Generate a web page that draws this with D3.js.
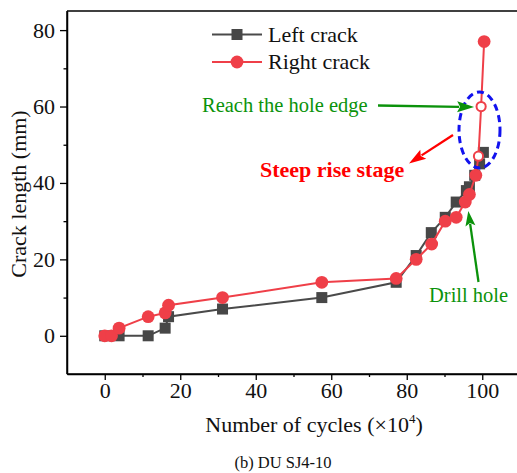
<!DOCTYPE html>
<html>
<head>
<meta charset="utf-8">
<script src="https://cdn.jsdelivr.net/npm/d3@7"></script>
<style>
  html, body { margin: 0; padding: 0; background: #fff; }
</style>
</head>
<body>
<svg id="chart" width="517" height="473"></svg>
<script>
// Crack length (mm) vs. number of cycles (x10^4)
const leftCycles  = [0, 3.8, 11.5, 16, 16.9, 31.2, 57.5, 77.2, 82.5, 86.5, 90.2, 93.1, 95.8, 96.6, 98.0, 99.3, 100.3];
const leftLength  = [0, 0, 0, 2, 5, 7, 10, 14, 21, 27, 31, 35, 38, 39, 42, 45, 48];

const rightCycles = [0, 1.8, 3.8, 11.5, 16, 16.9, 31.2, 57.5, 77.2, 82.5, 86.6, 90.2, 93.1, 95.5, 96.6, 98.3, 99.0, 99.7, 100.5];
const rightLength = [0, 0, 2, 5, 6, 8, 10, 14, 15, 20, 24, 30, 31, 35, 37, 42, 47, 60, 77];
// Points drawn as open markers (crack reaching the hole edge)
const rightOpen   = [false, false, false, false, false, false, false, false, false, false, false, false, false, false, false, false, true, true, false];

const xTicks = [0, 20, 40, 60, 80, 100];
const yTicks = [0, 20, 40, 60, 80];
const seriesNames = ["Left crack", "Right crack"];

const FONT = '"Liberation Serif", "Times New Roman", Tinos, serif';
const svg = d3.select("#chart");
const x = d3.scaleLinear().domain([-10, 110]).range([67, 520]);
const y = d3.scaleLinear().domain([-10, 85]).range([374, 11]);

const grayLine = "#4a4a4a", grayMark = "#474747";
const red = "#ef3f48";
const green = "#0b920b";

function txt(g, xx, yy, s, size, color, opts = {}) {
  const t = g.append("text").attr("x", xx).attr("y", yy)
    .style("font-family", FONT).style("font-size", size + "px")
    .attr("fill", color || "#111").text(s);
  if (opts.anchor) t.attr("text-anchor", opts.anchor);
  if (opts.bold) t.style("font-weight", "bold");
  return t;
}

// Frame top
svg.append("line").attr("x1", 67).attr("x2", 517).attr("y1", 11).attr("y2", 11)
  .attr("stroke", "#000").attr("stroke-width", 1.5);

const xAxis = svg.append("g").attr("transform", "translate(0,374)")
  .call(d3.axisBottom(x).tickValues(xTicks).tickSize(6).tickSizeOuter(0).tickPadding(2));
const xMinor = svg.append("g").attr("transform", "translate(0,374)")
  .call(d3.axisBottom(x).tickValues([10, 30, 50, 70, 90]).tickSize(3).tickFormat("").tickSizeOuter(0));
const yAxis = svg.append("g").attr("transform", "translate(67,0)")
  .call(d3.axisLeft(y).tickValues(yTicks).tickSize(7).tickSizeOuter(0).tickPadding(5));
const yMinor = svg.append("g").attr("transform", "translate(67,0)")
  .call(d3.axisLeft(y).tickValues([10, 30, 50, 70]).tickSize(3.5).tickFormat("").tickSizeOuter(0));

[xAxis, xMinor, yAxis, yMinor].forEach(g => {
  g.select(".domain").attr("stroke-width", 1.5);
  g.selectAll(".tick line").attr("stroke-width", 1.3);
  g.selectAll("text").style("font-family", FONT).style("font-size", "22px").attr("fill", "#111");
});
xAxis.select(".domain").attr("d", "M67,0H517");
yAxis.select(".domain").attr("d", "M0,374V11");

// Axis titles and caption
txt(svg, 0, 0, "Crack length (mm)", 22, "#111", {anchor: "middle"})
  .attr("transform", "translate(26,194) rotate(-90)");

const xt = txt(svg, 314, 432, "", 22, "#111", {anchor: "middle"});
xt.append("tspan").text("Number of cycles (\u00d710");
xt.append("tspan").style("font-size", "13px").attr("dy", -9).text("4");
xt.append("tspan").attr("dy", 9).text(")");

txt(svg, 283, 468, "(b) DU SJ4-10", 16.5, "#111", {anchor: "middle"});

// Data
const left = leftCycles.map((c, i) => ({c, v: leftLength[i]}));
const right = rightCycles.map((c, i) => ({c, v: rightLength[i], open: rightOpen[i]}));
const line = d3.line().x(d => x(d.c)).y(d => y(d.v));

svg.append("path").datum(left).attr("d", line).attr("fill", "none")
  .attr("stroke", grayLine).attr("stroke-width", 2);
svg.selectAll(".sq").data(left).join("rect").attr("class", "sq")
  .attr("x", d => x(d.c) - 5.5).attr("y", d => y(d.v) - 5.5)
  .attr("width", 11).attr("height", 11).attr("fill", grayMark);

svg.append("path").datum(right).attr("d", line).attr("fill", "none")
  .attr("stroke", red).attr("stroke-width", 2);
svg.selectAll(".ci").data(right).join("circle").attr("class", "ci")
  .attr("cx", d => x(d.c)).attr("cy", d => y(d.v))
  .attr("r", d => d.open ? 4.6 : 6.4)
  .attr("fill", d => d.open ? "#fff" : red)
  .attr("stroke", red).attr("stroke-width", d => d.open ? 2 : 0);

// Legend
const legend = svg.append("g");
[0, 1].forEach(i => {
  const ly = 34.5 + i * 27.5;
  legend.append("line").attr("x1", 212).attr("x2", 262).attr("y1", ly).attr("y2", ly)
    .attr("stroke", i === 0 ? grayLine : red).attr("stroke-width", 2);
  if (i === 0) {
    legend.append("rect").attr("x", 231.5).attr("y", ly - 5.5).attr("width", 11).attr("height", 11).attr("fill", grayMark);
  } else {
    legend.append("circle").attr("cx", 237).attr("cy", ly).attr("r", 6.4).attr("fill", red);
  }
  txt(legend, 268, ly + 7, seriesNames[i], 22, "#111");
});

// Annotation arrows: shaft plus triangular head ending at (x2, y2)
function arrow(x1, y1, x2, y2, color, len, half) {
  const dx = x2 - x1, dy = y2 - y1, L = Math.hypot(dx, dy);
  const ux = dx / L, uy = dy / L;
  const bx = x2 - ux * len, by = y2 - uy * len;
  svg.append("line").attr("x1", x1).attr("y1", y1).attr("x2", bx + ux * 2).attr("y2", by + uy * 2)
    .attr("stroke", color).attr("stroke-width", 2.3);
  svg.append("path")
    .attr("d", `M${x2},${y2}L${bx - uy * half},${by + ux * half}L${bx + ux * 3},${by + uy * 3}L${bx + uy * half},${by - ux * half}Z`)
    .attr("fill", color);
}

// Highlight around the hole-edge points
svg.append("ellipse").attr("cx", 479.5).attr("cy", 130).attr("rx", 20.5).attr("ry", 38)
  .attr("fill", "none").attr("stroke", "#1212ee").attr("stroke-width", 3)
  .attr("stroke-dasharray", "7,4.5");

txt(svg, 202, 112, "Reach the hole edge", 20.5, green);
arrow(378, 105.5, x(99.7) - 7, y(60) + 0.5, green, 17, 5.5);

txt(svg, 260, 177, "Steep rise stage", 22, "#f00", {bold: true});
arrow(453, 135, 409, 163.5, "#f00", 17, 5.5);

txt(svg, 429, 302, "Drill hole", 20.5, green);
arrow(478.5, 282, 468.3, 211, green, 15, 5);
</script>
</body>
</html>
